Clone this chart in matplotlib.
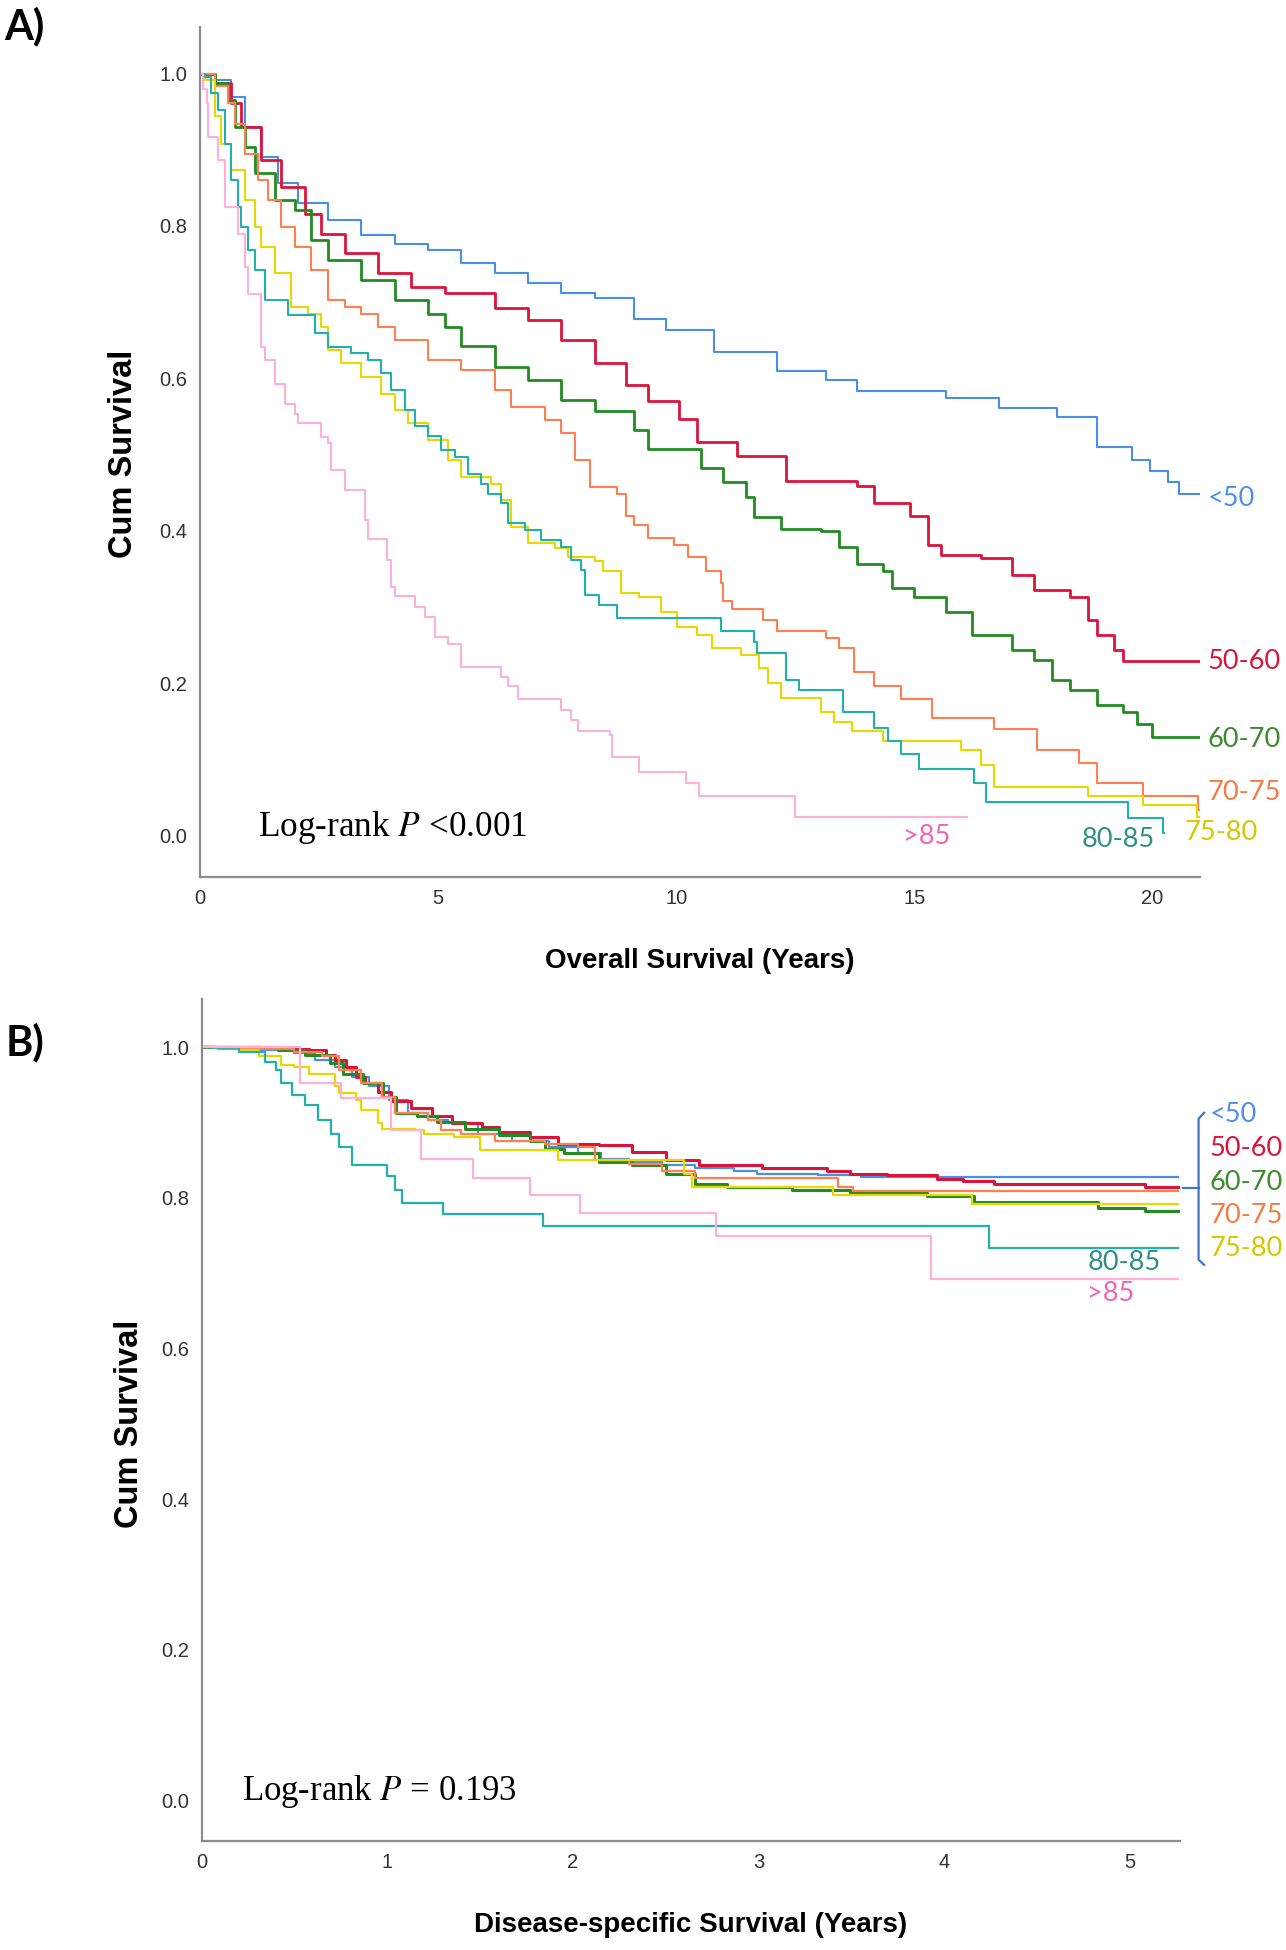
import numpy as np
import matplotlib
matplotlib.use("Agg")
import matplotlib.pyplot as plt

plt.rcParams['mathtext.fontset'] = 'stix'

# Groups and colours
groups = ['<50', '50-60', '60-70', '70-75', '75-80', '80-85', '>85']
line_colors = ['#4a90e2', '#dc143c', '#228b22', '#ff7f50', '#e8d800', '#20b2aa', '#ffb0d8']
label_colors = ['#4f8fe6', '#d6163c', '#3b8a2e', '#f47b42', '#d4c800', '#2e9080', '#f064b4']

# ---- Panel A: overall survival (years, cumulative survival) ----
os_t = {
    '<50': [0, 0.31, 0.66, 0.94, 1.29, 1.64, 2.06, 2.69, 3.39, 4.09, 4.79, 5.49, 6.19, 6.89, 7.59, 8.29,
            9.12, 9.78, 10.80, 12.11, 13.14, 13.79, 15.66, 16.78, 17.99, 18.83, 19.58, 19.95, 20.32, 20.55, 20.98],
    '50-60': [0, 0.31, 0.66, 0.87, 1.29, 1.71, 2.20, 2.55, 3.04, 3.74, 4.44, 5.14, 6.19, 6.89, 7.59, 8.29,
              8.94, 9.40, 10.06, 10.43, 11.27, 12.30, 13.79, 14.16, 14.91, 15.28, 15.56, 16.40, 17.06, 17.52,
              18.27, 18.64, 18.83, 19.20, 19.39, 20.98],
    '60-70': [0, 0.31, 0.59, 0.73, 0.94, 1.15, 1.57, 1.99, 2.34, 2.69, 3.39, 4.09, 4.79, 5.14, 5.49, 6.19,
              6.89, 7.59, 8.29, 9.12, 9.40, 10.52, 10.99, 11.46, 11.64, 12.20, 13.04, 13.42, 13.79, 14.35,
              14.54, 15.00, 15.66, 16.22, 17.06, 17.52, 17.90, 18.27, 18.83, 19.39, 19.67, 20.00, 20.98],
    '70-75': [0, 0.31, 0.59, 0.73, 0.94, 1.22, 1.43, 1.71, 1.99, 2.34, 2.69, 3.04, 3.39, 3.74, 4.09, 4.79,
              5.49, 6.19, 6.54, 7.24, 7.59, 7.87, 8.19, 8.75, 8.94, 9.12, 9.40, 9.96, 10.24, 10.62, 10.94,
              10.99, 11.18, 11.83, 12.11, 13.14, 13.42, 13.74, 14.16, 14.72, 15.38, 16.68, 17.57, 18.46,
              18.83, 19.81, 20.96, 20.98],
    '75-80': [0, 0.10, 0.31, 0.45, 0.66, 0.94, 1.15, 1.29, 1.57, 1.92, 2.27, 2.55, 2.69, 2.97, 3.39, 3.81,
              4.09, 4.37, 4.79, 5.21, 5.49, 6.12, 6.33, 6.54, 6.89, 7.45, 7.73, 8.29, 8.47, 8.84, 9.22,
              9.68, 10.01, 10.43, 10.76, 11.36, 11.74, 11.92, 12.20, 13.04, 13.32, 13.70, 14.35, 15.98,
              16.40, 16.68, 18.64, 19.81, 20.93, 20.98],
    '80-85': [0, 0.10, 0.24, 0.38, 0.52, 0.66, 0.80, 0.87, 1.01, 1.15, 1.36, 1.85, 2.41, 2.69, 3.18, 3.53,
              3.81, 4.02, 4.30, 4.51, 4.79, 5.07, 5.35, 5.63, 5.91, 6.05, 6.33, 6.47, 6.82, 7.17, 7.59,
              7.80, 8.01, 8.08, 8.38, 8.75, 10.94, 11.64, 11.69, 12.30, 12.58, 13.51, 14.16, 14.44,
              14.72, 15.10, 16.26, 16.50, 19.48, 20.23, 20.25],
    '>85': [0, 0.07, 0.14, 0.17, 0.38, 0.52, 0.80, 0.94, 1.01, 1.29, 1.36, 1.57, 1.78, 1.99, 2.06, 2.55,
            2.69, 2.76, 3.04, 3.46, 3.53, 3.92, 4.02, 4.09, 4.51, 4.72, 4.93, 5.21, 5.49, 6.33, 6.47,
            6.68, 7.59, 7.80, 7.94, 8.61, 8.65, 9.21, 10.20, 10.48, 12.49, 16.10],
}
os_s = {
    '<50': [1.0, 0.991, 0.969, 0.93, 0.89, 0.856, 0.83, 0.808, 0.788, 0.777, 0.768, 0.751, 0.738, 0.725,
            0.712, 0.706, 0.678, 0.664, 0.635, 0.610, 0.598, 0.583, 0.574, 0.561, 0.549, 0.510, 0.493,
            0.478, 0.464, 0.449, 0.449],
    '50-60': [1.0, 0.987, 0.961, 0.93, 0.886, 0.851, 0.816, 0.790, 0.764, 0.738, 0.720, 0.712, 0.692,
              0.677, 0.650, 0.620, 0.591, 0.571, 0.547, 0.517, 0.498, 0.466, 0.459, 0.437, 0.420, 0.381,
              0.369, 0.364, 0.342, 0.322, 0.313, 0.283, 0.264, 0.244, 0.229, 0.229],
    '60-70': [1.0, 0.987, 0.965, 0.93, 0.904, 0.869, 0.834, 0.821, 0.781, 0.755, 0.729, 0.703, 0.685,
              0.668, 0.642, 0.615, 0.598, 0.572, 0.557, 0.532, 0.508, 0.483, 0.464, 0.444, 0.418, 0.403,
              0.400, 0.379, 0.357, 0.347, 0.325, 0.313, 0.293, 0.264, 0.244, 0.230, 0.205, 0.191, 0.171,
              0.162, 0.147, 0.130, 0.129],
    '70-75': [1.0, 0.983, 0.961, 0.934, 0.895, 0.860, 0.834, 0.799, 0.773, 0.742, 0.703, 0.694, 0.685,
              0.668, 0.650, 0.624, 0.611, 0.585, 0.563, 0.545, 0.528, 0.493, 0.457, 0.449, 0.420, 0.408,
              0.391, 0.381, 0.366, 0.347, 0.332, 0.308, 0.298, 0.283, 0.269, 0.259, 0.247, 0.215, 0.196,
              0.179, 0.154, 0.140, 0.113, 0.096, 0.069, 0.052, 0.034, 0.034],
    '75-80': [1.0, 0.992, 0.944, 0.908, 0.873, 0.834, 0.799, 0.773, 0.738, 0.694, 0.685, 0.668, 0.637,
              0.620, 0.602, 0.580, 0.558, 0.541, 0.519, 0.493, 0.471, 0.462, 0.440, 0.405, 0.384, 0.377,
              0.366, 0.361, 0.347, 0.318, 0.313, 0.293, 0.274, 0.264, 0.247, 0.237, 0.220, 0.201, 0.181,
              0.162, 0.149, 0.137, 0.125, 0.113, 0.093, 0.064, 0.052, 0.040, 0.025, 0.025],
    '80-85': [1.0, 0.996, 0.974, 0.952, 0.908, 0.860, 0.825, 0.799, 0.768, 0.742, 0.703, 0.683, 0.659,
              0.641, 0.633, 0.624, 0.607, 0.585, 0.558, 0.537, 0.524, 0.506, 0.497, 0.475, 0.462, 0.449,
              0.436, 0.410, 0.401, 0.388, 0.379, 0.362, 0.349, 0.316, 0.303, 0.286, 0.269, 0.254, 0.240,
              0.205, 0.191, 0.162, 0.142, 0.125, 0.108, 0.088, 0.069, 0.044, 0.023, 0.004, 0.004],
    '>85': [1.0, 0.98, 0.961, 0.917, 0.886, 0.825, 0.790, 0.746, 0.711, 0.641, 0.624, 0.593, 0.567,
            0.554, 0.541, 0.523, 0.515, 0.480, 0.453, 0.414, 0.390, 0.362, 0.327, 0.314, 0.300, 0.287,
            0.261, 0.252, 0.222, 0.209, 0.196, 0.180, 0.165, 0.152, 0.137, 0.132, 0.103, 0.084, 0.069,
            0.052, 0.025, 0.025],
}

# ---- Panel B: disease-specific survival ----
dss_t = {
    '<50': [0, 0.32, 0.50, 0.61, 0.72, 0.81, 0.90, 1.01, 1.11, 1.22, 1.33, 1.49, 1.67, 1.87, 2.03, 2.15,
            2.30, 2.48, 2.66, 2.87, 2.99, 3.32, 3.55, 5.26],
    '50-60': [0, 0.41, 0.58, 0.67, 0.72, 0.78, 0.83, 0.88, 0.95, 1.02, 1.13, 1.24, 1.35, 1.51, 1.60, 1.77,
              1.92, 2.14, 2.32, 2.50, 2.68, 3.02, 3.37, 3.49, 3.69, 3.96, 4.10, 4.27, 5.08, 5.26],
    '60-70': [0, 0.41, 0.56, 0.69, 0.76, 0.87, 0.98, 1.05, 1.16, 1.27, 1.42, 1.60, 1.77, 1.85, 1.95, 2.14,
              2.32, 2.50, 2.66, 2.83, 3.18, 3.49, 3.91, 4.16, 4.83, 5.08, 5.26],
    '70-75': [0, 0.09, 0.50, 0.65, 0.74, 0.86, 0.97, 1.04, 1.22, 1.29, 1.40, 1.58, 1.85, 2.03, 2.12, 2.30,
              2.48, 2.66, 3.43, 3.51, 5.26],
    '75-80': [0, 0.20, 0.31, 0.43, 0.50, 0.58, 0.72, 0.74, 0.83, 0.86, 0.95, 0.97, 1.15, 1.20, 1.36, 1.50,
              1.92, 2.60, 2.64, 3.40, 4.15, 5.26],
    '80-85': [0, 0.06, 0.20, 0.34, 0.40, 0.43, 0.49, 0.56, 0.63, 0.70, 0.74, 0.81, 1.00, 1.04, 1.08, 1.30,
              1.84, 4.24, 5.26],
    '>85': [0, 0.53, 0.75, 1.02, 1.18, 1.46, 1.77, 2.04, 2.77, 3.93, 5.26],
}
dss_s = {
    '<50': [1.0, 0.996, 0.992, 0.983, 0.974, 0.961, 0.948, 0.930, 0.912, 0.903, 0.899, 0.885, 0.876, 0.868,
            0.859, 0.852, 0.848, 0.843, 0.839, 0.836, 0.832, 0.830, 0.828, 0.828],
    '50-60': [1.0, 0.998, 0.996, 0.990, 0.983, 0.974, 0.961, 0.952, 0.941, 0.928, 0.919, 0.908, 0.899,
              0.894, 0.888, 0.881, 0.872, 0.870, 0.861, 0.850, 0.843, 0.839, 0.836, 0.832, 0.830, 0.825,
              0.823, 0.818, 0.814, 0.814],
    '60-70': [1.0, 0.996, 0.990, 0.979, 0.965, 0.952, 0.934, 0.912, 0.908, 0.901, 0.892, 0.883, 0.876,
              0.865, 0.859, 0.848, 0.843, 0.832, 0.819, 0.814, 0.810, 0.806, 0.802, 0.795, 0.787, 0.783, 0.783],
    '70-75': [1.0, 0.998, 0.994, 0.988, 0.970, 0.952, 0.934, 0.912, 0.903, 0.890, 0.885, 0.876, 0.872,
              0.868, 0.850, 0.845, 0.836, 0.826, 0.814, 0.809, 0.809],
    '75-80': [1.0, 0.996, 0.988, 0.976, 0.974, 0.965, 0.948, 0.939, 0.930, 0.916, 0.899, 0.892, 0.890,
              0.885, 0.881, 0.864, 0.850, 0.831, 0.815, 0.804, 0.792, 0.792],
    '80-85': [1.0, 0.999, 0.994, 0.981, 0.970, 0.952, 0.936, 0.923, 0.903, 0.885, 0.868, 0.843, 0.829,
              0.810, 0.793, 0.778, 0.762, 0.733, 0.733],
    '>85': [1.0, 0.953, 0.932, 0.890, 0.851, 0.826, 0.804, 0.780, 0.749, 0.692, 0.692],
}

# where the group names sit (data coords) next to the curve ends
os_label_x = [21.17, 21.15, 21.15, 21.15, 20.68, 18.52, 14.76]
os_label_y = [0.443, 0.229, 0.127, 0.057, 0.004, -0.005, -0.001]
dss_label_x = [5.43, 5.43, 5.43, 5.43, 5.43, 4.77, 4.77]
dss_label_y = [0.910, 0.866, 0.821, 0.777, 0.733, 0.714, 0.673]

W, H = 1286, 1950
fig = plt.figure(figsize=(W / 100, H / 100), dpi=100)

axA = fig.add_axes([200 / W, 1 - 877 / H, 1000 / W, 850 / H])
axB = fig.add_axes([201.5 / W, 1 - 1841 / H, 978.5 / W, 842 / H])

tick_font = dict(family=['Liberation Sans', 'DejaVu Sans'], size=14.5, color='#333333')
label_font = ['Lato', 'DejaVu Sans']


def style_axis(ax, xlim, ylim, xticks):
    for side in ['top', 'right']:
        ax.spines[side].set_visible(False)
    for side in ['left', 'bottom']:
        ax.spines[side].set_color('#8c8c8c')
        ax.spines[side].set_linewidth(1.6)
    ax.set_xlim(*xlim)
    ax.set_ylim(*ylim)
    ax.set_xticks(xticks)
    ax.set_yticks([0.0, 0.2, 0.4, 0.6, 0.8, 1.0])
    ax.set_yticklabels(['0.0', '0.2', '0.4', '0.6', '0.8', '1.0'])
    ax.tick_params(length=0, pad=9)
    for lab in ax.get_xticklabels() + ax.get_yticklabels():
        lab.set_fontfamily(tick_font['family'])
        lab.set_fontsize(tick_font['size'])
        lab.set_color(tick_font['color'])


# Panel A curves
for g, lc in zip(groups, line_colors):
    lw = 2.0 if g in ('50-60', '60-70') else 1.5
    axA.step(os_t[g], os_s[g], where='post', color=lc, lw=lw)
style_axis(axA, (0, 21.0), (-0.054, 1.061), [0, 5, 10, 15, 20])
for g, c, x, y in zip(groups, label_colors, os_label_x, os_label_y):
    axA.text(x, y, g, color=c, fontsize=19.5, family=label_font, va='center', ha='left', clip_on=False)
axA.text(1.22, 0.0, r'Log-rank $P$ <0.001', family=['Liberation Serif', 'DejaVu Serif'],
         fontsize=25.4, va='baseline', ha='left')

# Panel B curves
for g, lc in zip(groups, line_colors):
    lw = 2.2 if g in ('50-60', '60-70') else 1.6
    axB.step(dss_t[g], dss_s[g], where='post', color=lc, lw=lw)
style_axis(axB, (0, 5.27), (-0.054, 1.064), [0, 1, 2, 3, 4, 5])
for g, c, x, y in zip(groups, label_colors, dss_label_x, dss_label_y):
    axB.text(x, y, g, color=c, fontsize=19.5, family=label_font, va='center', ha='left', clip_on=False)
axB.text(0.22, 0.0, r'Log-rank $P$ = 0.193', family=['Liberation Serif', 'DejaVu Serif'],
         fontsize=25, va='baseline', ha='left')

# bracket grouping the five overlapping curves in panel B
bx = 5.37
axB.plot([bx + 0.03, bx, bx, bx + 0.03], [0.913, 0.905, 0.718, 0.711], color='#4472c4', lw=1.6, clip_on=False)
axB.plot([bx - 0.085, bx], [0.813, 0.813], color='#4472c4', lw=1.6, clip_on=False)

# axis titles and panel letters
xlab_font = dict(family=['Liberation Sans', 'DejaVu Sans'], fontweight='bold', fontsize=20)
ylab_font = dict(family=['Liberation Sans', 'DejaVu Sans'], fontweight='bold', fontsize=23.5)
fig.text(700 / W, 1 - 961 / H, 'Overall Survival (Years)', ha='center', va='center', **xlab_font)
fig.text(691 / W, 1 - 1925 / H, 'Disease-specific Survival (Years)', ha='center', va='center', **xlab_font)
fig.text(124 / W, 1 - 454 / H, 'Cum Survival', rotation=90, ha='center', va='center', **ylab_font)
fig.text(129 / W, 1 - 1424 / H, 'Cum Survival', rotation=90, ha='center', va='center', **ylab_font)
fig.text(4 / W, 1 - 6 / H, 'A)', family=label_font, fontweight='bold', fontsize=30, ha='left', va='top')
fig.text(6 / W, 1 - 1022 / H, 'B)', family=label_font, fontweight='bold', fontsize=30, ha='left', va='top')

fig.savefig('out.png', dpi=100)
